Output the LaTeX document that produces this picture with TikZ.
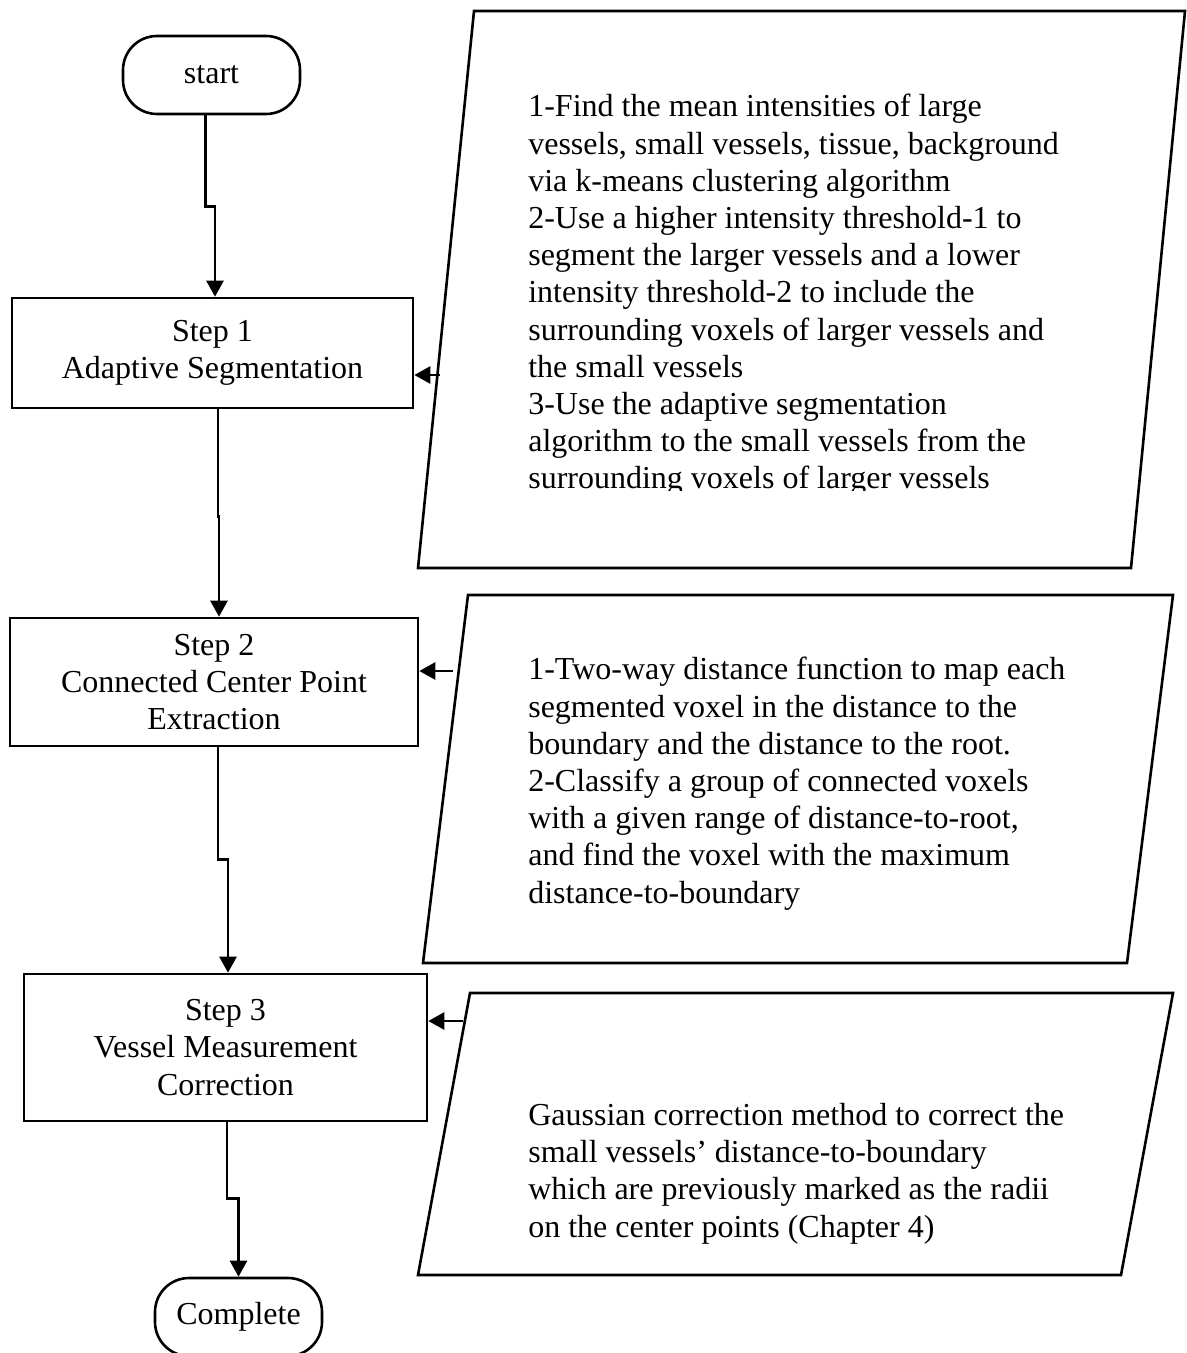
\documentclass[tikz,border=0pt]{standalone}
\usepackage{fontspec}
\setmainfont{Liberation Serif}
\usetikzlibrary{arrows.meta}

\begin{document}
\begin{tikzpicture}[x=0.5pt, y=-0.5pt, line width=1.3pt,
    every node/.style={font=\fontsize{16}{18.6}\selectfont},
    stepbox/.style={draw, align=center, inner sep=0pt},
    terminal/.style={draw, rounded corners=17pt, minimum width=88.5pt, minimum height=39pt, inner sep=0pt},
    note/.style={anchor=north west, align=left, inner sep=0pt},
    flow/.style={-{Triangle[length=8pt,width=8.5pt]}}]
    \useasboundingbox (0,0) rectangle (1187,1353);

    % main column
    \node[terminal] (start) at (211.5,75) {start};
    \node[stepbox, minimum width=200.5pt, minimum height=55pt] (step1) at (212.5,353) {Step 1\\Adaptive Segmentation};
    \node[stepbox, minimum width=204pt, minimum height=64pt] (step2) at (214,682) {Step 2\\Connected Center Point\\Extraction};
    \node[stepbox, minimum width=201.5pt, minimum height=73.5pt] (step3) at (225.5,1047.5) {Step 3\\Vessel Measurement\\Correction};
    \node[terminal, minimum width=83.5pt] (complete) at (238.5,1317) {Complete};

    \draw[flow] ([xshift=-3pt]start.south) -- +(0pt,-45.5pt) -| ([xshift=1.25pt]step1.north);
    \draw[flow] ([xshift=2.75pt]step1.south) -- +(0pt,-53.5pt) -| ([xshift=2.5pt]step2.north);
    \draw[flow] ([xshift=2pt]step2.south) -- +(0pt,-56pt) -| ([xshift=1.25pt]step3.north);
    \draw[flow] ([xshift=0.75pt]step3.south) -- +(0pt,-38pt) -| (complete.north);

    % data boxes
    \coordinate (p1a) at (474,11);
    \coordinate (p1b) at (1185,11);
    \coordinate (p1c) at (1131,568);
    \coordinate (p1d) at (418,568);
    \coordinate (p2a) at (468,595);
    \coordinate (p2b) at (1173,595);
    \coordinate (p2c) at (1127,963);
    \coordinate (p2d) at (423,963);
    \coordinate (p3a) at (470,993);
    \coordinate (p3b) at (1173,993);
    \coordinate (p3c) at (1121,1275);
    \coordinate (p3d) at (418,1275);

    \draw (p1a) -- (p1b) -- (p1c) -- (p1d) -- cycle;
    \draw (p2a) -- (p2b) -- (p2c) -- (p2d) -- cycle;
    \draw (p3a) -- (p3b) -- (p3c) -- (p3d) -- cycle;

    \begin{scope}
        \clip (500,0) rectangle (1120,490);
        \node[note] (text1) at (527,93) {1-Find the mean intensities of large\\
            vessels, small vessels, tissue, background\\
            via k-means clustering algorithm\\
            2-Use a higher intensity threshold-1 to\\
            segment the larger vessels and a lower\\
            intensity threshold-2 to include the\\
            surrounding voxels of larger vessels and\\
            the small vessels\\
            3-Use the adaptive segmentation\\
            algorithm to the small vessels from the\\
            surrounding voxels of larger vessels};
    \end{scope}
    \node[note] (text2) at (527,656) {1-Two-way distance function to map each\\
        segmented voxel in the distance to the\\
        boundary and the distance to the root.\\
        2-Classify a group of connected voxels\\
        with a given range of distance-to-root,\\
        and find the voxel with the maximum\\
        distance-to-boundary};
    \node[note] (text3) at (527,1102) {Gaussian correction method to correct the\\
        small vessels’ distance-to-boundary\\
        which are previously marked as the radii\\
        on the center points (Chapter 4)};

    \coordinate (in1) at (440,375);
    \coordinate (in2) at (453,671);
    \coordinate (in3) at (463,1021);
    \draw[flow] (in1) -- (in1 -| step1.east);
    \draw[flow] (in2) -- (in2 -| step2.east);
    \draw[flow] (in3) -- (in3 -| step3.east);
\end{tikzpicture}
\end{document}
